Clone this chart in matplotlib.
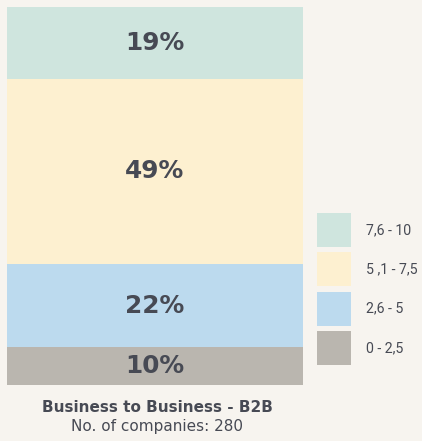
import matplotlib.pyplot as plt

# share of companies per score band (bottom to top)
bands = ['0 - 2,5', '2,6 - 5', '5 ,1 - 7,5', '7,6 - 10']
shares = [10, 22, 49, 19]
colors = ['#bab6af', '#bcdaee', '#fdf0d0', '#cfe5de']
title = 'Business to Business - B2B'
subtitle = 'No. of companies: 280'

bg = '#f7f4ef'
txt = '#474a54'

W, H = 422, 441
fig = plt.figure(figsize=(W / 100, H / 100), dpi=100, facecolor=bg)

# stacked bar, placed in pixel coordinates
ax = fig.add_axes([7 / W, (H - 385) / H, 296 / W, 378 / H])
ax.set_facecolor(bg)

bottom = 0
for share, col in zip(shares, colors):
    ax.bar(0, share, width=1, bottom=bottom, color=col, linewidth=0)
    ax.text(0, bottom + share / 2, f'{share}%', ha='center', va='center',
            fontsize=17.8, fontweight='bold', color=txt, family='DejaVu Sans')
    bottom += share

ax.set_xlim(-0.5, 0.5)
ax.set_ylim(0, sum(shares))
ax.axis('off')

# legend drawn by hand: one row per band, top band first
pitch = 39.3
lax = fig.add_axes([317 / W, 1 - (210.35 + 4 * pitch) / H, 105 / W, 4 * pitch / H])
lax.set_facecolor(bg)
rows = list(range(len(bands)))
lax.barh(rows, 34, height=34 / pitch, left=0, color=colors[::-1], linewidth=0)
for i, lab in zip(rows, bands[::-1]):
    lax.text(49, i, lab, ha='left', va='center', fontsize=10.2,
             color=txt, family='Roboto')
lax.set_xlim(0, 105)
lax.set_ylim(3.5, -0.5)
lax.axis('off')

fig.text(157 / W, 1 - 407.5 / H, title, ha='center', va='center',
         fontsize=11, fontweight='bold', color=txt, family='DejaVu Sans')
fig.text(157 / W, 1 - 427 / H, subtitle, ha='center', va='center',
         fontsize=11, color=txt, family='DejaVu Sans')

fig.savefig('out.png', dpi=100, facecolor=bg)
